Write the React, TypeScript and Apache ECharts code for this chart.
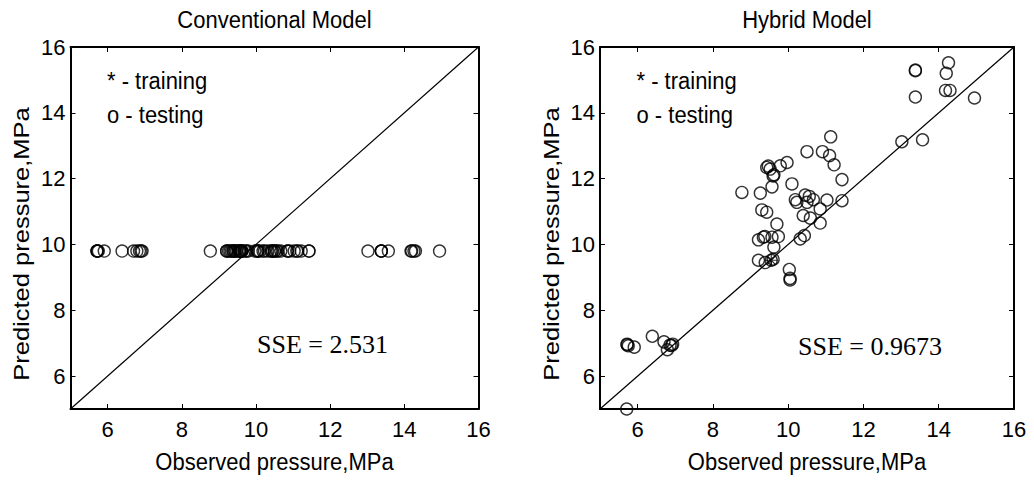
import React, { useEffect, useRef } from "react";
import * as echarts from "echarts";

// ---- data ----
const tickValues = [6, 8, 10, 12, 14, 16];
const axisMin = 5;
const axisMax = 16;

const observed = [
  5.72, 5.72, 5.75, 5.91, 5.71, 6.39, 6.7, 6.79, 6.86, 6.93, 6.9, 8.77, 9.26, 9.3, 9.43, 9.21, 9.34,
  9.38, 9.57, 9.74, 9.62, 9.7, 9.21, 9.39, 9.55, 9.6, 9.57, 9.43, 9.47, 9.52, 9.62, 9.6, 9.79, 9.97,
  10.03, 10.05, 10.05, 10.1, 10.19, 10.23, 10.45, 10.5, 10.56, 10.67, 10.85, 11.03, 10.5, 10.91, 11.1,
  11.22, 11.13, 11.43, 11.43, 10.32, 10.43, 10.4, 10.59, 10.85, 13.02, 13.57, 13.38, 13.38, 13.38,
  14.26, 14.2, 14.18, 14.3, 14.95,
];

const conventionalPredicted = [
  9.8, 9.8, 9.8, 9.8, 9.8, 9.8, 9.8, 9.8, 9.8, 9.8, 9.8, 9.8, 9.8, 9.8, 9.8, 9.8, 9.8, 9.8, 9.8, 9.8,
  9.8, 9.8, 9.8, 9.8, 9.8, 9.8, 9.8, 9.8, 9.8, 9.8, 9.8, 9.8, 9.8, 9.8, 9.8, 9.8, 9.8, 9.8, 9.8, 9.8,
  9.8, 9.8, 9.8, 9.8, 9.8, 9.8, 9.8, 9.8, 9.8, 9.8, 9.8, 9.8, 9.8, 9.8, 9.8, 9.8, 9.8, 9.8, 9.8, 9.8,
  9.8, 9.8, 9.8, 9.8, 9.8, 9.8, 9.8, 9.8,
];

const hybridPredicted = [
  6.95, 6.97, 6.92, 6.88, 5.0, 7.21, 7.04, 6.8, 6.94, 6.97, 6.93, 11.58, 11.56, 11.05, 10.98, 10.14,
  10.22, 10.24, 10.22, 10.24, 9.92, 10.62, 9.52, 9.45, 9.52, 9.55, 11.75, 12.34, 12.38, 12.29, 12.12,
  12.08, 12.39, 12.49, 9.24, 8.97, 8.92, 11.84, 11.36, 11.28, 11.5, 11.28, 11.46, 11.36, 11.08, 11.35,
  12.82, 12.82, 12.7, 12.42, 13.27, 11.97, 11.33, 10.17, 10.27, 10.88, 10.8, 10.65, 13.12, 13.18,
  15.3, 15.28, 14.48, 15.52, 15.2, 14.68, 14.68, 14.45,
];

const trainingObserved = [9.55];
const trainingHybrid = [9.52];

const titles = ["Conventional Model", "Hybrid Model"];
const sseTexts = ["SSE = 2.531", "SSE = 0.9673"];
const xName = "Observed pressure,MPa";
const yName = "Predicted pressure,MPa";
const legendLines = ["* - training", "o - testing"];

// ---- layout ----
const SANS = "'Liberation Sans', Arial, sans-serif";
const SERIF = "'Liberation Serif', 'Times New Roman', serif";
const grids = [
  { left: 70.5, top: 47, width: 408, height: 362 },
  { left: 600, top: 47, width: 414, height: 362 },
];

function makeX(gridIndex: number, position: string, labels: boolean) {
  return {
    type: "value",
    gridIndex,
    position,
    min: axisMin,
    max: axisMax,
    axisLine: { show: true, onZero: false, lineStyle: { color: "#000", width: 2 } },
    axisTick: { show: true, inside: true, length: 5, customValues: tickValues, lineStyle: { color: "#000", width: 1 } },
    axisLabel: { show: labels, customValues: tickValues, color: "#000", fontSize: 22, fontFamily: SANS, margin: 9 },
    splitLine: { show: false },
  };
}
function makeY(gridIndex: number, position: string, labels: boolean) {
  return {
    type: "value",
    gridIndex,
    position,
    min: axisMin,
    max: axisMax,
    axisLine: { show: true, onZero: false, lineStyle: { color: "#000", width: 2 } },
    axisTick: { show: true, inside: true, length: 5, customValues: tickValues, lineStyle: { color: "#000", width: 1 } },
    axisLabel: { show: labels, customValues: tickValues, color: "#000", fontSize: 22, fontFamily: SANS, margin: 5 },
    splitLine: { show: false },
  };
}

const circleStyle = { color: "rgba(0,0,0,0)", borderColor: "#000", borderWidth: 1.4 };

export default function App() {
  const ref = useRef<HTMLDivElement>(null);
  useEffect(() => {
    if (!ref.current) return;
    const chart = echarts.init(ref.current, null, { renderer: "svg" });
    const graphics: any[] = [];
    grids.forEach((g, i) => {
      const cx = g.left + g.width / 2;
      graphics.push({
        type: "text", x: cx, y: 20, scaleY: 1.12,
        style: { text: titles[i], font: `22px ${SANS}`, fill: "#000", textAlign: "center", textVerticalAlign: "middle" },
      });
      graphics.push({
        type: "text", x: cx, y: 462, scaleY: 1.12,
        style: { text: xName, font: `22px ${SANS}`, fill: "#000", textAlign: "center", textVerticalAlign: "middle" },
      });
      graphics.push({
        type: "text", x: g.left - 49, y: 244, rotation: Math.PI / 2, scaleX: 1.16,
        style: { text: yName, font: `22px ${SANS}`, fill: "#000", textAlign: "center", textVerticalAlign: "middle" },
      });
      legendLines.forEach((t, k) => {
        graphics.push({
          type: "text", x: g.left + 36.5, y: 81 + k * 34, scaleY: 1.12,
          style: { text: t, font: `22px ${SANS}`, fill: "#000", textAlign: "left", textVerticalAlign: "middle" },
        });
      });
    });
    graphics.push({
      type: "text", x: 257, y: 344,
      style: { text: sseTexts[0], font: `26px ${SERIF}`, fill: "#000", textAlign: "left", textVerticalAlign: "middle" },
    });
    graphics.push({
      type: "text", x: 798, y: 346,
      style: { text: sseTexts[1], font: `26px ${SERIF}`, fill: "#000", textAlign: "left", textVerticalAlign: "middle" },
    });

    const diag = (xi: number) => ({
      type: "line", xAxisIndex: xi, yAxisIndex: xi, silent: true,
      data: [[axisMin, axisMin], [axisMax, axisMax]],
      showSymbol: false, symbol: "none",
      lineStyle: { color: "#000", width: 1.2 },
    });

    chart.setOption({
      animation: false,
      grid: grids.map((g) => ({ ...g, show: false, containLabel: false })),
      xAxis: [makeX(0, "bottom", true), makeX(0, "top", false), makeX(1, "bottom", true), makeX(1, "top", false)],
      yAxis: [makeY(0, "left", true), makeY(0, "right", false), makeY(1, "left", true), makeY(1, "right", false)],
      series: [
        diag(0),
        {
          type: "scatter", xAxisIndex: 0, yAxisIndex: 0, silent: true, clip: false,
          symbol: "circle", symbolSize: 12, itemStyle: circleStyle,
          data: observed.map((x, i) => [x, conventionalPredicted[i]]),
        },
        { ...diag(2) },
        {
          type: "scatter", xAxisIndex: 2, yAxisIndex: 2, silent: true, clip: false,
          symbol: "circle", symbolSize: 12, itemStyle: circleStyle,
          data: observed.map((x, i) => [x, hybridPredicted[i]]),
        },
        {
          type: "scatter", xAxisIndex: 2, yAxisIndex: 2, silent: true, clip: false,
          symbol: "path://M0,-1L0,1M-1,0L1,0M-0.7,-0.7L0.7,0.7M-0.7,0.7L0.7,-0.7",
          symbolSize: 12,
          itemStyle: { color: "rgba(0,0,0,0)", borderColor: "#000", borderWidth: 1.2 },
          data: trainingObserved.map((x, i) => [x, trainingHybrid[i]]),
        },
      ],
      graphic: graphics,
    });
    return () => chart.dispose();
  }, []);
  return (
    <div
      ref={ref}
      style={{ position: "fixed", left: 0, top: 0, width: 1034, height: 481, background: "#fff" }}
    />
  );
}
